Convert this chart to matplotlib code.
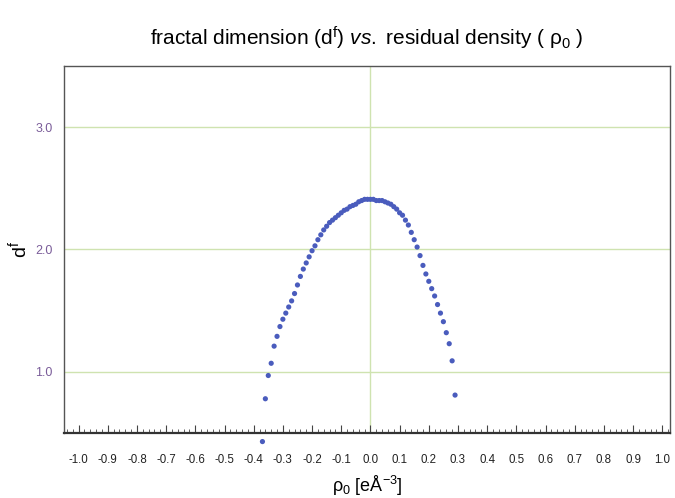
import matplotlib
matplotlib.use("Agg")
import matplotlib.pyplot as plt
import numpy as np
from matplotlib.ticker import MultipleLocator, FormatStrFormatter

plt.rcParams['font.family'] = ['Liberation Sans', 'DejaVu Sans']
plt.rcParams['mathtext.fontset'] = 'custom'
plt.rcParams['mathtext.rm'] = 'Liberation Sans'
plt.rcParams['mathtext.it'] = 'Liberation Sans:italic'
plt.rcParams['mathtext.bf'] = 'Liberation Sans:bold'

# residual density rho_0 (e/A^3) and fractal dimension d^f
rho0 = [-0.37, -0.36, -0.35, -0.34, -0.33, -0.32, -0.31, -0.30, -0.29, -0.28,
        -0.27, -0.26, -0.25, -0.24, -0.23, -0.22, -0.21, -0.20, -0.19, -0.18,
        -0.17, -0.16, -0.15, -0.14, -0.13, -0.12, -0.11, -0.10, -0.09, -0.08,
        -0.07, -0.06, -0.05, -0.04, -0.03, -0.02, -0.01, 0.00, 0.01, 0.02,
        0.03, 0.04, 0.05, 0.06, 0.07, 0.08, 0.09, 0.10, 0.11, 0.12,
        0.13, 0.14, 0.15, 0.16, 0.17, 0.18, 0.19, 0.20, 0.21, 0.22,
        0.23, 0.24, 0.25, 0.26, 0.27, 0.28, 0.29]
df = [0.43, 0.78, 0.97, 1.07, 1.21, 1.29, 1.37, 1.43, 1.48, 1.53,
      1.58, 1.64, 1.71, 1.78, 1.84, 1.89, 1.94, 1.99, 2.03, 2.08,
      2.12, 2.16, 2.19, 2.22, 2.24, 2.26, 2.28, 2.30, 2.32, 2.33,
      2.35, 2.36, 2.37, 2.39, 2.40, 2.41, 2.41, 2.41, 2.41, 2.40,
      2.40, 2.40, 2.39, 2.38, 2.37, 2.35, 2.33, 2.30, 2.28, 2.24,
      2.20, 2.14, 2.08, 2.02, 1.95, 1.87, 1.80, 1.74, 1.68, 1.62,
      1.55, 1.48, 1.41, 1.32, 1.23, 1.09, 0.81]

yticks = [1.0, 2.0, 3.0]

fig = plt.figure(figsize=(6.75, 4.98), dpi=100)
ax = fig.add_axes([0.0948, 0.1305, 0.898, 0.737])

grid_col = '#cfe3b0'
for y in yticks:
    ax.axhline(y, color=grid_col, lw=1.0, zorder=1)
ax.axvline(0.0, color=grid_col, lw=1.0, zorder=1)

ax.scatter(rho0, df, s=14, color='#4a5cbd', edgecolors='none', zorder=3, clip_on=False)

ax.set_xlim(-1.05, 1.027)
ax.set_ylim(0.5, 3.5)

ax.xaxis.set_major_locator(MultipleLocator(0.1))
ax.xaxis.set_minor_locator(MultipleLocator(0.02))
ax.xaxis.set_major_formatter(FormatStrFormatter('%.1f'))
ax.set_yticks(yticks)
ax.yaxis.set_major_formatter(FormatStrFormatter('%.1f'))

ax.tick_params(axis='x', which='major', direction='in', length=6, width=0.8,
               color='#444444', pad=15, labelsize=8.3, labelcolor='#222222')
ax.tick_params(axis='x', which='minor', direction='in', length=3, width=0.6,
               color='#444444')
ax.tick_params(axis='y', length=0, pad=8, labelsize=9, labelcolor='#7a5c99')

for side in ['left', 'right', 'top']:
    ax.spines[side].set_color('#555555')
    ax.spines[side].set_linewidth(1.0)
ax.spines['bottom'].set_color('#333333')
ax.spines['bottom'].set_linewidth(1.6)

ax.set_ylabel(r'd$^\mathrm{f}$', fontsize=14, labelpad=4)
ax.set_xlabel(r'ρ$_0$ [eÅ$^{-3}$]', fontsize=13, labelpad=6)

fig.text(0.544, 0.922, r'fractal dimension (d$^\mathrm{f}$) $\mathit{vs.}$ residual density ( ρ$_0$ )',
         ha='center', va='center', fontsize=15)

fig.savefig('out.png', dpi=100)
